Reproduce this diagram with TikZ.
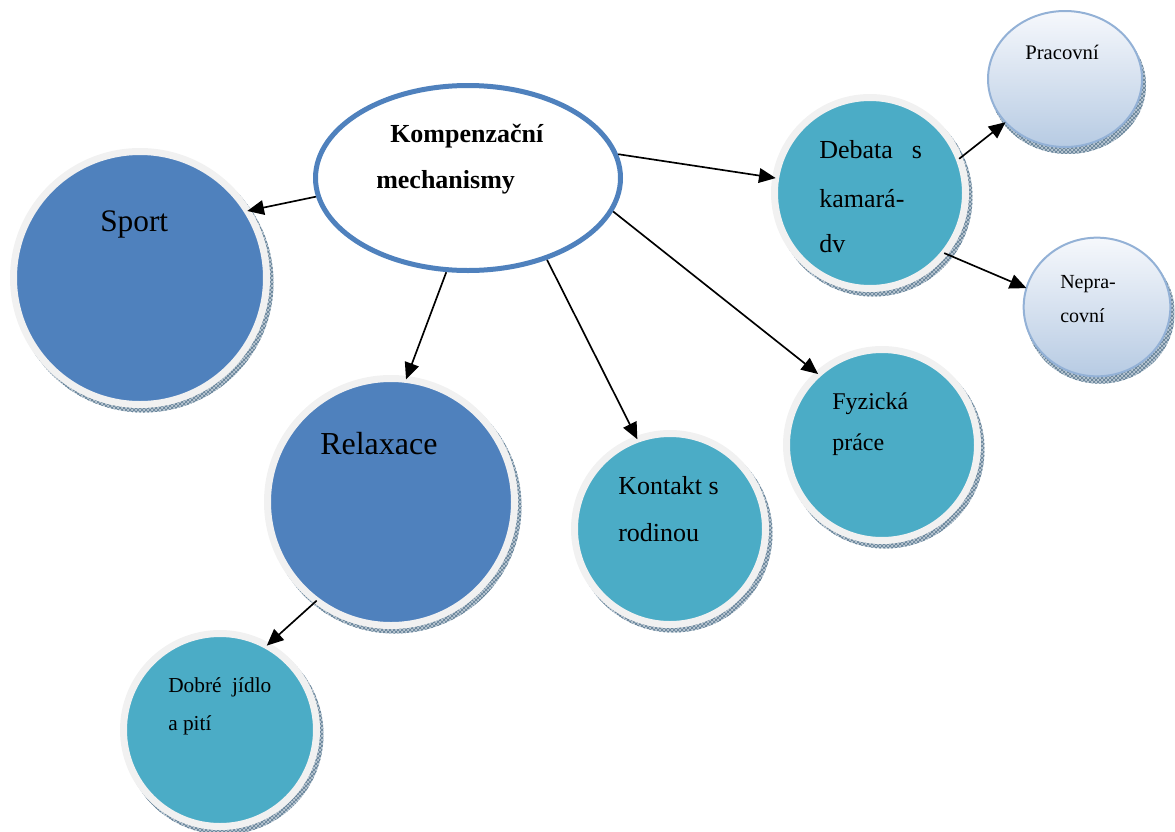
\documentclass[tikz,border=0pt]{standalone}
\usepackage{fontspec}
\setmainfont{Liberation Serif}
\usetikzlibrary{arrows.meta,shapes.geometric,patterns}
\definecolor{deepblue}{HTML}{4F81BD}
\definecolor{tealfill}{HTML}{4BACC6}
\definecolor{ringgray}{HTML}{F1F1F1}
\definecolor{paletop}{HTML}{F6F8FC}
\definecolor{palebot}{HTML}{B7CBE3}
\definecolor{paleedge}{HTML}{93B1D6}
\definecolor{shadebase}{HTML}{BCC9D4}
\definecolor{shadeline}{HTML}{5D7C93}
\newcommand\setfs[1]{\fontsize{#1}{#1}\selectfont}
\begin{document}
\begin{tikzpicture}[x=0.75pt,y=-0.75pt,
  disc/.style={circle,inner sep=0pt,outer sep=0pt,draw=ringgray,line width=5.25pt},
  bluedisc/.style={disc,fill=deepblue},
  tealdisc/.style={disc,fill=tealfill},
  palenode/.style={ellipse,inner sep=0pt,outer sep=0pt,draw=paleedge,line width=1.5pt,
    top color=paletop,bottom color=palebot},
  dropshade/.style={preaction={fill=shadebase},pattern=crosshatch,pattern color=shadeline},
  arr/.style={line width=1.25pt,-{Triangle[length=12.5pt,width=11pt]}},
  txt/.style={anchor=base west,inner sep=0pt,text=black}]
\useasboundingbox (0,0) rectangle (1175,832);

% centres
\coordinate (cSport) at (140,278);
\coordinate (cRelax) at (391,502);
\coordinate (cKont)  at (670,529);
\coordinate (cFyz)   at (882,445);
\coordinate (cDeb)   at (870,193);
\coordinate (cJidlo) at (220,730);
\coordinate (cPrac)  at (1065,79);
\coordinate (cNeprac) at (1097,307);

% drop shadows
\path[dropshade] ([shift={(3.5,4.5)}]cSport) circle[radius=97.5pt];
\path[dropshade] ([shift={(3.5,4.5)}]cRelax) circle[radius=95.25pt];
\path[dropshade] ([shift={(3.5,4.5)}]cKont) circle[radius=74.25pt];
\path[dropshade] ([shift={(3.5,4.5)}]cFyz) circle[radius=74.25pt];
\path[dropshade] ([shift={(3.5,4.5)}]cDeb) circle[radius=74.25pt];
\path[dropshade] ([shift={(3.5,4.5)}]cJidlo) circle[radius=75pt];
\path[dropshade] ([shift={(3,6)}]cPrac) ellipse[x radius=58.5pt,y radius=51.75pt];
\path[dropshade] ([shift={(3,6)}]cNeprac) ellipse[x radius=56pt,y radius=53pt];

% circles
\node[bluedisc,minimum size=189.75pt] (sport) at (cSport) {};
\node[bluedisc,minimum size=185.25pt] (relax) at (cRelax) {};
\node[tealdisc,minimum size=143.25pt] (kont) at (cKont) {};
\node[tealdisc,minimum size=143.25pt] (fyz) at (cFyz) {};
\node[tealdisc,minimum size=143.25pt] (deb) at (cDeb) {};
\node[tealdisc,minimum size=144.75pt] (jidlo) at (cJidlo) {};
\node[palenode,minimum width=115.5pt,minimum height=102pt] (prac) at (cPrac) {};
\node[palenode,minimum width=110pt,minimum height=104pt] (neprac) at (cNeprac) {};

% central ellipse
\node[ellipse,draw=deepblue,line width=3.75pt,fill=white,inner sep=0pt,outer sep=2pt,
  minimum width=228.75pt,minimum height=138.75pt] (mech) at (468,178) {};

% connectors
\draw[arr] (mech.187.5) -- (sport.32);
\draw[arr] (mech.9) -- (deb.171);
\draw[arr] (mech.257.7) -- (relax.83.4);
\draw[arr] (mech.314.3) -- (kont.110.5);
\draw[arr] (mech.347.4) -- (fyz.132.4);
\draw[arr] (deb.21.4) -- (prac.216.7);
\draw[arr] (deb.321.3) -- (neprac.165.4);
\draw[arr] (relax.233) -- (jidlo.61);

% labels
\node[txt,font=\setfs{19.5}\bfseries] (mech1) at (390,142) {Kompenzační};
\node[txt,font=\setfs{19.5}\bfseries] (mech2) at (376,188) {mechanismy};
\node[txt,font=\setfs{23.5}] (sportT) at (100,231) {Sport};
\node[txt,font=\setfs{24}] (relaxT) at (320,454) {Relaxace};
\node[txt,font=\setfs{19.5}] (deb1) at (819,158) {\makebox[77pt][l]{Debata\hfill s}};
\node[txt,font=\setfs{19.5}] (deb2) at (819,207) {kamará-};
\node[txt,font=\setfs{19.5}] (deb3) at (819,252) {dv};
\node[txt,font=\setfs{19.5}] (kont1) at (618,494) {Kontakt s};
\node[txt,font=\setfs{19.5}] (kont2) at (618,541) {rodinou};
\node[txt,font=\setfs{18}] (fyz1) at (832,409) {Fyzická};
\node[txt,font=\setfs{18}] (fyz2) at (832,450) {práce};
\node[txt,font=\setfs{16}] (jidlo1) at (168,692) {Dobré\ \ jídlo};
\node[txt,font=\setfs{16}] (jidlo2) at (168,730) {a pití};
\node[txt,font=\setfs{15.5}] (pracT) at (1025,59) {Pracovní};
\node[txt,font=\setfs{15}] (neprac1) at (1060,288) {Nepra-};
\node[txt,font=\setfs{15}] (neprac2) at (1060,322) {covní};
\end{tikzpicture}
\end{document}
